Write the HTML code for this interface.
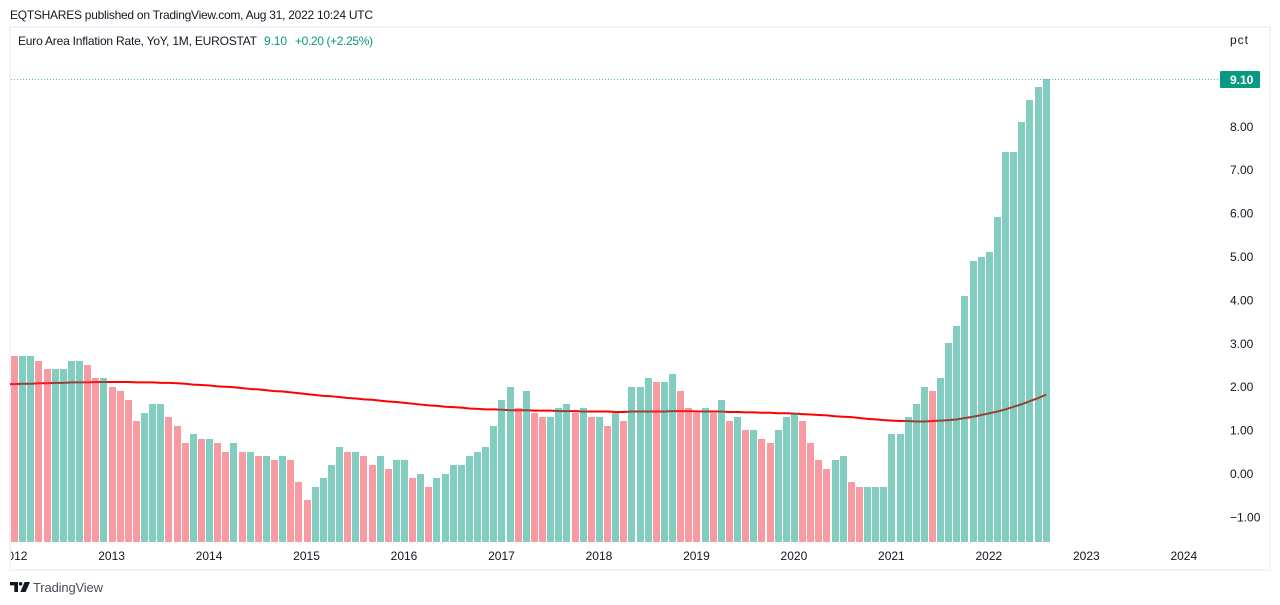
<!DOCTYPE html>
<html lang="en">
<head>
<meta charset="utf-8">
<title>Euro Area Inflation Rate, YoY</title>
<style>
  html, body { margin: 0; padding: 0; background: #ffffff; }
  body { width: 1280px; height: 605px; overflow: hidden; }
  svg { display: block; font-family: "Liberation Sans", Arial, sans-serif; }
</style>
</head>
<body>
<svg id="chart" xmlns="http://www.w3.org/2000/svg" width="1280" height="605" viewBox="0 0 1280 605">
  <defs>
    <clipPath id="pane-clip"><rect x="10" y="28" width="1210" height="514"></rect></clipPath>
    <clipPath id="axis-clip"><rect x="11" y="544" width="1209" height="25"></rect></clipPath>
  </defs>
  <rect x="0" y="0" width="1280" height="605" fill="#ffffff"></rect>
  <text x="10" y="19" font-size="12" fill="#131722" textLength="363" lengthAdjust="spacing">EQTSHARES published on TradingView.com, Aug 31, 2022 10:24 UTC</text>
  <rect x="10" y="27" width="1260" height="543" fill="none" stroke="#f0f3fa" stroke-width="2"></rect>
  <g id="ma-layer" clip-path="url(#pane-clip)"></g>
  <g id="bar-layer" clip-path="url(#pane-clip)"></g>
  <g id="last-line-layer"></g>
  <g id="x-axis" clip-path="url(#axis-clip)"></g>
  <g id="y-axis"></g>
  <text x="18" y="45" font-size="12" fill="#131722" textLength="239" lengthAdjust="spacing">Euro Area Inflation Rate, YoY, 1M, EUROSTAT</text>
  <text x="264" y="45" font-size="12" fill="#089981" textLength="23" lengthAdjust="spacing">9.10</text>
  <text x="295" y="45" font-size="12" fill="#089981" textLength="78" lengthAdjust="spacing">+0.20 (+2.25%)</text>
  <text x="1230" y="44" font-size="12" fill="#131722" textLength="18" lengthAdjust="spacing">pct</text>
  <g>
    <path d="M10 582H18V592H14.3V585.4H10Z" fill="#131722"></path>
    <circle cx="20.6" cy="583.8" r="1.8" fill="#131722"></circle>
    <path d="M24.6 582H30L25.6 592H20.4Z" fill="#131722"></path>
    <text x="33" y="592" font-size="13" fill="#4a4e59" textLength="70" lengthAdjust="spacing">TradingView</text>
  </g>
</svg>
<script>
// Values. The first entry (Dec 2011) sits just off the left edge.
const startYear = 2011;
const startMonth = 11;
const inflationValues = [
  2.8,
  2.7,2.7,2.7,2.6,2.4,2.4,2.4,2.6,2.6,2.5,2.2,2.2,
  2.0,1.9,1.7,1.2,1.4,1.6,1.6,1.3,1.1,0.7,0.9,0.8,
  0.8,0.7,0.5,0.7,0.5,0.5,0.4,0.4,0.3,0.4,0.3,-0.2,
  -0.6,-0.3,-0.1,0.2,0.6,0.5,0.5,0.4,0.2,0.4,0.1,0.3,
  0.3,-0.1,0.0,-0.3,-0.1,0.0,0.2,0.2,0.4,0.5,0.6,1.1,
  1.7,2.0,1.5,1.9,1.4,1.3,1.3,1.5,1.6,1.4,1.5,1.3,
  1.3,1.1,1.4,1.2,2.0,2.0,2.2,2.1,2.1,2.3,1.9,1.5,
  1.4,1.5,1.4,1.7,1.2,1.3,1.0,1.0,0.8,0.7,1.0,1.3,
  1.4,1.2,0.7,0.3,0.1,0.3,0.4,-0.2,-0.3,-0.3,-0.3,-0.3,
  0.9,0.9,1.3,1.6,2.0,1.9,2.2,3.0,3.4,4.1,4.9,5.0,
  5.1,5.9,7.4,7.4,8.1,8.6,8.9,9.1
];
const movingAverage = [
  2.07,
  2.07,2.08,2.08,2.09,2.09,2.10,2.10,2.11,2.11,2.11,2.12,2.12,
  2.12,2.12,2.12,2.11,2.11,2.11,2.10,2.10,2.09,2.08,2.06,2.05,
  2.04,2.02,2.01,2.00,1.98,1.96,1.95,1.93,1.91,1.90,1.88,1.86,
  1.84,1.82,1.80,1.79,1.77,1.75,1.74,1.72,1.71,1.69,1.67,1.66,
  1.64,1.62,1.60,1.58,1.57,1.55,1.54,1.53,1.51,1.50,1.49,1.49,
  1.48,1.47,1.47,1.47,1.46,1.46,1.46,1.45,1.45,1.45,1.44,1.44,
  1.44,1.44,1.43,1.43,1.44,1.44,1.44,1.44,1.44,1.45,1.45,1.45,
  1.44,1.44,1.44,1.44,1.43,1.43,1.42,1.42,1.41,1.41,1.40,1.40,
  1.39,1.38,1.37,1.36,1.35,1.33,1.32,1.31,1.29,1.27,1.26,1.24,
  1.23,1.22,1.22,1.21,1.21,1.22,1.23,1.24,1.26,1.29,1.32,1.36,
  1.40,1.44,1.49,1.55,1.61,1.68,1.75,1.83
];
const priceTicks = [8,7,6,5,4,3,2,1,0,-1];
const yearTicks = [2012,2013,2014,2015,2016,2017,2018,2019,2020,2021,2022,2023,2024];
const lastValueLabel = "9.10";

const NS = "http://www.w3.org/2000/svg";
const monthWidth = 8.123;
const janFirstX = 14.7;
const zeroY = 474;
const unitHeight = 43.4;
const baseY = 542;

function monthIndexX(monthsSince2012) { return janFirstX + monthWidth * monthsSince2012; }
function seriesX(i) { return monthIndexX(i + (startYear - 2012) * 12 + startMonth); }
function yearX(year) { return monthIndexX((year - 2012) * 12) - 0.6; }
function valueY(v) { return zeroY - unitHeight * v; }
function make(tag, attrs) {
  const el = document.createElementNS(NS, tag);
  Object.keys(attrs).forEach(function (k) { el.setAttribute(k, attrs[k]); });
  return el;
}

// Moving average sits beneath the translucent columns
const maLayer = document.getElementById("ma-layer");
const maPoints = movingAverage.map(function (v, i) {
  return seriesX(i).toFixed(2) + "," + valueY(v).toFixed(2);
}).join(" ");
const maLine = make("polyline", { points: maPoints, fill: "none", stroke: "#ff0000", "stroke-width": 2, "stroke-linejoin": "round" });


maLayer.appendChild(maLine);

// Columns
const barLayer = document.getElementById("bar-layer");
inflationValues.forEach(function (v, i) {
  if (i === 0) { return; }
  const up = v >= inflationValues[i - 1];
  const top = Math.floor(valueY(v));
  const left = Math.round(seriesX(i) - 3.6);
  const bar = make("rect", {
    x: left, y: top, width: 7, height: baseY - top,
    fill: up ? "#089981" : "#f23645", "fill-opacity": 0.5, "shape-rendering": "crispEdges"
  });
  
  
  barLayer.appendChild(bar);
});

// Last value marker
const lastLayer = document.getElementById("last-line-layer");
const lastY = Math.floor(valueY(inflationValues[inflationValues.length - 1])) + 0.5;
const lastLine = make("line", { x1: 11, x2: 1220, y1: lastY, y2: lastY, stroke: "#089981", "stroke-opacity": 0.65, "stroke-width": 1, "stroke-dasharray": "1 2" });


lastLayer.appendChild(lastLine);
const badge = make("rect", { x: 1220, y: lastY - 8.5, width: 40, height: 17, fill: "#089981", rx: 1 });


lastLayer.appendChild(badge);
const badgeText = make("text", { x: 1230, y: lastY + 4.5, "font-size": 12, "font-weight": "bold", fill: "#ffffff" });
badgeText.textContent = lastValueLabel;


lastLayer.appendChild(badgeText);

// Price axis
const yAxis = document.getElementById("y-axis");
priceTicks.forEach(function (t) {
  const label = make("text", { x: 1230, y: valueY(t) + 4, "font-size": 12, fill: "#131722" });
  label.textContent = (t < 0 ? "\u2212" : "") + Math.abs(t).toFixed(2);
  
  
  yAxis.appendChild(label);
});

// Time axis
const xAxis = document.getElementById("x-axis");
yearTicks.forEach(function (y) {
  const label = make("text", { x: yearX(y), y: 560, "font-size": 12, fill: "#131722", "text-anchor": "middle" });
  label.textContent = String(y);
  
  
  xAxis.appendChild(label);
});
</script>
</body>
</html>
